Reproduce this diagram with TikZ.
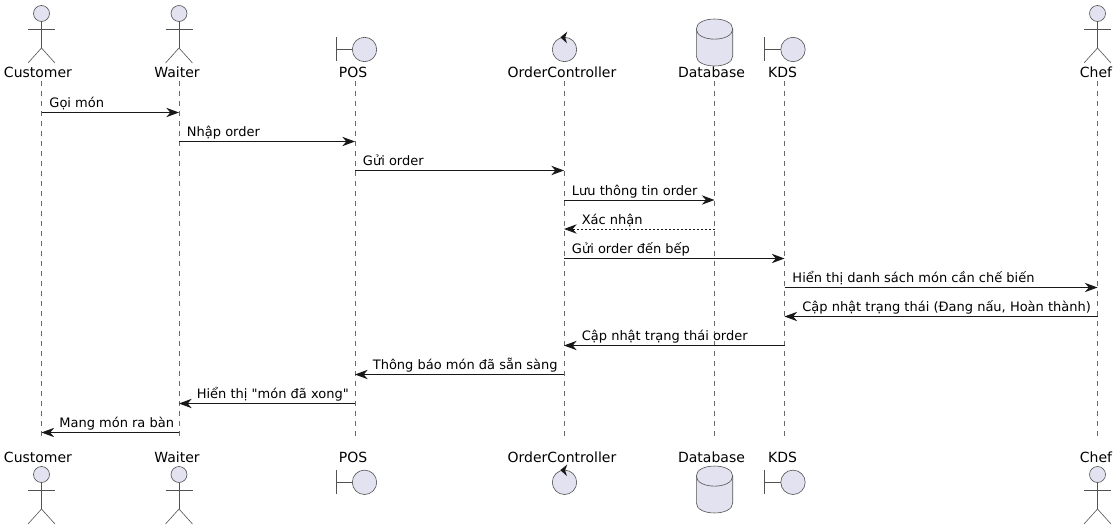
\documentclass[tikz,border=0pt]{standalone}
\usepackage{fontspec}
\setmainfont{DejaVu Sans}
\newfontfamily\straightquote{DejaVu Sans}
\usetikzlibrary{arrows.meta,calc,positioning}
\definecolor{umlfill}{HTML}{E2E2F0}
\definecolor{umlline}{HTML}{181818}
\tikzset{
  party/.style={
    font=\fontsize{10.5pt}{12pt}\selectfont,
    inner sep=0pt,
    anchor=base,
    text=black
  },
  shapeline/.style={
    draw=umlline!75,
    line width=.45pt
  },
  lifeline/.style={
    draw=umlline!65,
    line width=.4pt,
    dash pattern=on 3.75pt off 3.75pt
  },
  msg/.style={
    -{Stealth[length=9.5pt,width=7pt,inset=3pt]},
    draw=umlline,
    line width=.75pt
  },
  reply/.style={
    msg,
    dash pattern=on 1.5pt off 1.5pt
  },
  toright/.style={
    font=\fontsize{9.75pt}{12pt}\selectfont,
    inner sep=0pt,
    anchor=base west,
    pos=0,
    xshift=5.6pt,
    yshift=3.6pt
  },
  toleft/.style={
    font=\fontsize{9.75pt}{12pt}\selectfont,
    inner sep=0pt,
    anchor=base west,
    pos=1,
    xshift=13pt,
    yshift=3.6pt
  },
  actorfig/.pic={
    \draw[shapeline, fill=umlfill] (0,8) circle[radius=8];
    \draw[shapeline] (0,16) -- (0,42.5);
    \draw[shapeline] (-13.5,23.5) -- (13.5,23.5);
    \draw[shapeline] (-13.5,57.5) -- (0,42.5) -- (13.5,57.5);
  },
  boundaryfig/.pic={
    \draw[shapeline] (-19,-12) -- (-19,12);
    \draw[shapeline] (-19,0) -- (-2.5,0);
    \draw[shapeline, fill=umlfill] (9.5,0) circle[radius=12.2];
  },
  controlfig/.pic={
    \draw[shapeline, fill=umlfill] (0,0) circle[radius=12.2];
    \fill[umlline] (2.8,-17.8) -- (-4.2,-12.2) -- (2.5,-6.2) -- (.6,-12) -- cycle;
  },
  databasefig/.pic={
    \draw[shapeline, fill=umlfill] (-18.2,10) .. controls (-18.2,-3.3) and (18.2,-3.3) .. (18.2,10)
      -- (18.2,37) .. controls (18.2,50.3) and (-18.2,50.3) .. (-18.2,37) -- cycle;
    \draw[shapeline] (-18.2,10) .. controls (-18.2,23.5) and (18.2,23.5) .. (18.2,10);
  }
}
\begin{document}
\begin{tikzpicture}[x=.75pt,y=-.75pt]
\useasboundingbox (0,0) rectangle (1114,528);
% lifelines
\coordinate (customer) at (41.5,81);
\coordinate (customerend) at (41.5,441);
\coordinate (waiter) at (179,81);
\coordinate (waiterend) at (179,441);
\coordinate (pos) at (355,81);
\coordinate (posend) at (355,441);
\coordinate (controller) at (564,81);
\coordinate (controllerend) at (564,441);
\coordinate (database) at (714.5,81);
\coordinate (databaseend) at (714.5,441);
\coordinate (kds) at (784.5,81);
\coordinate (kdsend) at (784.5,441);
\coordinate (chef) at (1097.5,81);
\coordinate (chefend) at (1097.5,441);
\draw[lifeline] (customer) -- (customerend);
\draw[lifeline] (waiter) -- (waiterend);
\draw[lifeline] (pos) -- (posend);
\draw[lifeline] (controller) -- (controllerend);
\draw[lifeline] (database) -- (databaseend);
\draw[lifeline] (kds) -- (kdsend);
\draw[lifeline] (chef) -- (chefend);
% top row
\pic at (41.5,5.5) {actorfig};
\pic at (179,5.5) {actorfig};
\pic at (355,49.5) {boundaryfig};
\pic at (564.5,49.5) {controlfig};
\pic at (714.5,19) {databasefig};
\pic at (783.5,49.5) {boundaryfig};
\pic at (1097.5,5.5) {actorfig};
\node[party] (customertop) at (38,78) {Customer};
\node[party] (waitertop) at (177,78) {Waiter};
\node[party] (postop) at (353,78) {POS};
\node[party] (controllertop) at (562,78) {OrderController};
\node[party] (databasetop) at (711.5,78) {Database};
\node[party] (kdstop) at (782.5,78) {KDS};
\node[party] (cheftop) at (1096,78) {Chef};
% bottom row
\pic at (41.5,466.5) {actorfig};
\pic at (179,466.5) {actorfig};
\pic at (355,482.3) {boundaryfig};
\pic at (564.5,482.3) {controlfig};
\pic at (714.5,466) {databasefig};
\pic at (783.5,482.3) {boundaryfig};
\pic at (1097.5,466.5) {actorfig};
\node[party] (customerbottom) at (38,462.7) {Customer};
\node[party] (waiterbottom) at (177,462.7) {Waiter};
\node[party] (posbottom) at (353,462.7) {POS};
\node[party] (controllerbottom) at (562,462.7) {OrderController};
\node[party] (databasebottom) at (711.5,462.7) {Database};
\node[party] (kdsbottom) at (782.5,462.7) {KDS};
\node[party] (chefbottom) at (1096,462.7) {Chef};
% messages
\draw[msg] (customer |- 0,112.5) -- (waiter |- 0,112.5) node[toright] (goimon) {Gọi món};
\draw[msg] (waiter |- 0,141.5) -- (pos |- 0,141.5) node[toright] (nhaporder) {Nhập order};
\draw[msg] (pos |- 0,170.5) -- (controller |- 0,170.5) node[toright] (guiorder) {Gửi order};
\draw[msg] (controller |- 0,200) -- (database |- 0,200) node[toright] (luuthongtin) {Lưu thông tin order};
\draw[reply] (database |- 0,229) -- (controller |- 0,229) node[toleft] (xacnhan) {Xác nhận};
\draw[msg] (controller |- 0,258.5) -- (kds |- 0,258.5) node[toright] (guibep) {Gửi order đến bếp};
\draw[msg] (kds |- 0,287.5) -- (chef |- 0,287.5) node[toright] (hienthids) {Hiển thị danh sách món cần chế biến};
\draw[msg] (chef |- 0,316.5) -- (kds |- 0,316.5) node[toleft] (capnhatchef) {Cập nhật trạng thái (Đang nấu, Hoàn thành)};
\draw[msg] (kds |- 0,345.5) -- (controller |- 0,345.5) node[toleft] (capnhatorder) {Cập nhật trạng thái order};
\draw[msg] (controller |- 0,374.5) -- (pos |- 0,374.5) node[toleft] (thongbao) {Thông báo món đã sẵn sàng};
\draw[msg] (pos |- 0,403.5) -- (waiter |- 0,403.5) node[toleft] (hienthixong) {\straightquote Hiển thị "món đã xong"};
\draw[msg] (waiter |- 0,432.5) -- (customer |- 0,432.5) node[toleft] (mangmon) {Mang món ra bàn};
\end{tikzpicture}
\end{document}
